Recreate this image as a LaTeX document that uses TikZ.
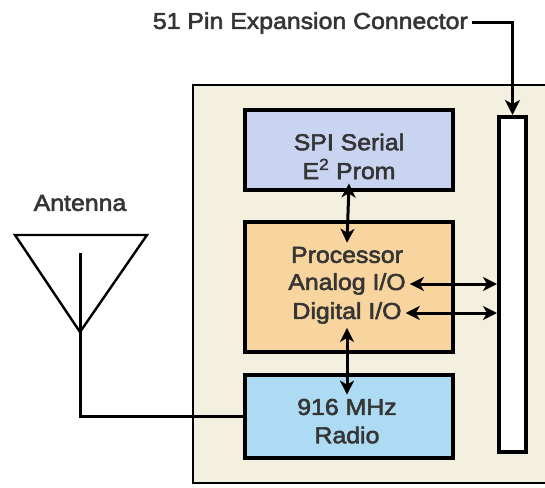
\documentclass[tikz,border=0pt]{standalone}
\usepackage{fontspec}
\setmainfont[FakeStretch=1.08, FakeBold=2.5]{Liberation Sans}
\usepackage{xcolor}
\usetikzlibrary{arrows.meta, positioning, calc}
\definecolor{boardcol}{HTML}{F4F0E0}
\definecolor{spicol}{HTML}{C9D5F0}
\definecolor{proccol}{HTML}{F8D49E}
\definecolor{radiocol}{HTML}{AEDBF4}
\definecolor{textcol}{HTML}{353535}

\begin{document}
\begin{tikzpicture}[
  x=1pt, y=-1pt,
  every node/.style={font=\fontsize{23}{27}\selectfont, text=textcol},
  blk/.style={draw, line width=4pt, minimum width=208pt, inner sep=0pt},
  txt/.style={inner sep=4pt},
  arr/.style={{Stealth[length=14pt,width=14pt,inset=4pt]}-{Stealth[length=14pt,width=14pt,inset=4pt]}, line width=3pt},
  wire/.style={line width=3pt}
]
\useasboundingbox (0,0) rectangle (545,487);
% board
\draw[fill=boardcol, line width=1.6pt] (193,85) rectangle (570,483);
% blocks
\node[blk, fill=spicol,   minimum height=80pt]  (spi)   at (349,150) {};
\node[blk, fill=proccol,  minimum height=130pt] (proc)  at (349,287) {};
\node[blk, fill=radiocol, minimum height=83pt]  (radio) at (349,416.5) {};
\node[draw, fill=white, line width=4pt, minimum width=27pt, minimum height=335pt, inner sep=0pt] (bar) at (512.5,284.5) {};
% texts
\node[txt] (spit)   at (349,142) {SPI Serial};
\node[txt] (prom)   at (349,169) {E\textsuperscript{2} Prom};
\node[txt] (ptit)   at (347,255) {Processor};
\node[txt] (analog) at (347,284) {Analog I/O};
\node[txt] (digit)  at (347,313) {Digital I/O};
\node[txt] (mhz)    at (347,407) {916 MHz};
\node[txt] (rad)    at (347,435) {Radio};
\node[txt, anchor=east] (conn) at (472,23) {51 Pin Expansion Connector};
\node[txt] (ant)    at (80,203) {Antenna};
% links
\draw[arr] (prom.south) -- (ptit.north);
\draw[arr] (digit.south) -- (mhz.north);
\draw[arr] (analog.east) -- (bar.west |- analog.east);
\draw[arr] (digit.east) -- (bar.west |- digit.east);
\draw[-{Stealth[length=15pt,width=15pt,inset=4pt]}, line width=3pt]
  (conn.east) -| (bar.north);
% antenna
\coordinate (apex) at (80,332);
\coordinate (mast) at (80,253);
\draw[line width=2.4pt, line join=miter] (15,235) -- (147,235) -- (apex) -- cycle;
\draw[wire] (mast) -- (apex) |- (radio.west);
\end{tikzpicture}
\end{document}
